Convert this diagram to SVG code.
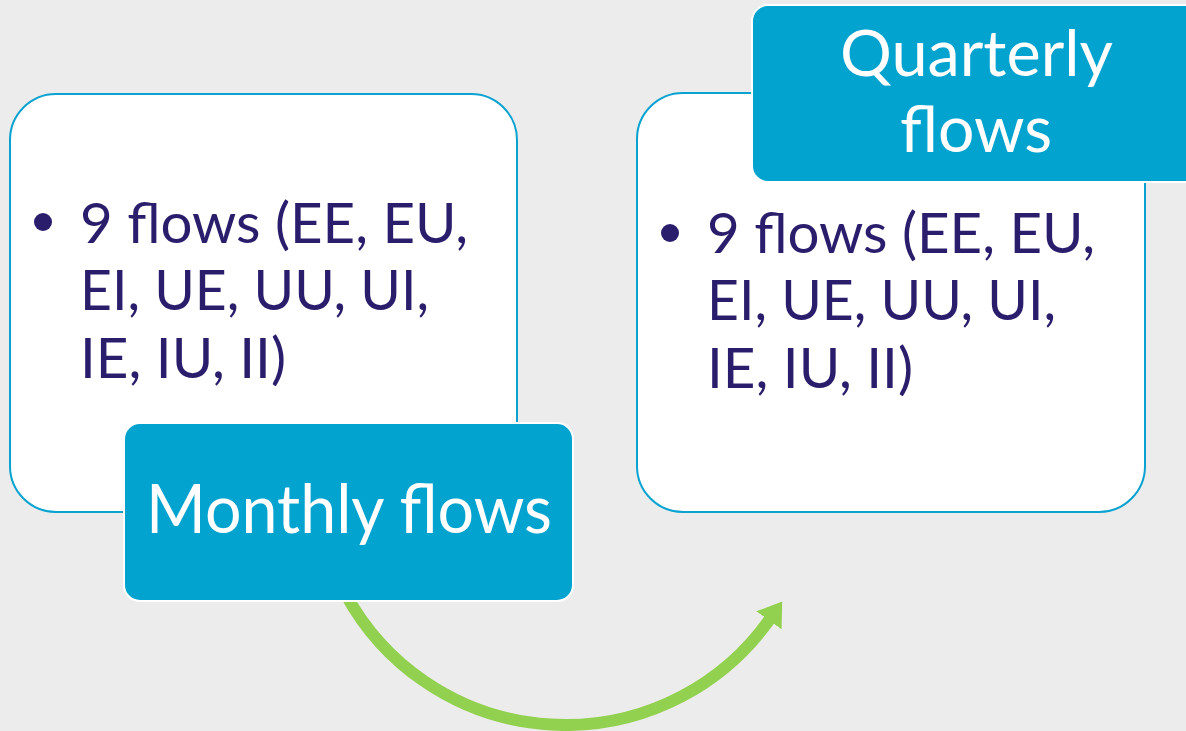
<svg xmlns="http://www.w3.org/2000/svg" width="1186" height="731" viewBox="0 0 1186 731">
  <style>
    .card { fill: #ffffff; stroke: #0aa2d0; stroke-width: 2; }
    .tab { fill: #02a3cf; stroke: #ffffff; stroke-width: 2; }
    .body { font-family: Lato, "Open Sans", "Liberation Sans", sans-serif; font-size: 56px; fill: #2a1d6c; }
    .title { font-family: Lato, "Open Sans", "Liberation Sans", sans-serif; fill: #ffffff; }
    .bullet { fill: #2a1d6c; }
    .conn { fill: none; stroke: #92d050; stroke-width: 12; }
  </style>
  <defs>
    <marker id="head" markerUnits="userSpaceOnUse" markerWidth="26" markerHeight="34" viewBox="0 0 26 34" refX="1" refY="17" orient="auto">
      <path d="M0,1.5 L23,17 L0,32.5 Z" fill="#92d050"/>
    </marker>
  </defs>
  <rect x="0" y="0" width="1186" height="731" fill="#ececec"/>

  <g id="connectors">
    <path class="conn" d="M345.8,594.3 A250,250 0 0 0 769.5,619.5" marker-end="url(#head)"/>
  </g>

  <g id="monthly-card">
    <rect class="card" x="10" y="94" width="507" height="418" rx="46" ry="46"/>
    <circle class="bullet" cx="43" cy="222" r="9"/>
    <text class="body" x="80" y="243" textLength="388" lengthAdjust="spacingAndGlyphs">9 flows (EE, EU,</text>
    <text class="body" x="80" y="310" textLength="349" lengthAdjust="spacingAndGlyphs">EI, UE, UU, UI,</text>
    <text class="body" x="80" y="378" textLength="206" lengthAdjust="spacingAndGlyphs">IE, IU, II)</text>
  </g>

  <g id="quarterly-card">
    <rect class="card" x="637" y="93" width="508" height="419" rx="46" ry="46"/>
    <circle class="bullet" cx="670" cy="233" r="9"/>
    <text class="body" x="707" y="253" textLength="388" lengthAdjust="spacingAndGlyphs">9 flows (EE, EU,</text>
    <text class="body" x="707" y="320" textLength="349" lengthAdjust="spacingAndGlyphs">EI, UE, UU, UI,</text>
    <text class="body" x="707" y="388" textLength="206" lengthAdjust="spacingAndGlyphs">IE, IU, II)</text>
  </g>

  <g id="quarterly-tab">
    <rect class="tab" x="752" y="5" width="450" height="177" rx="16" ry="16"/>
    <text class="title" x="840" y="76" font-size="64" textLength="273" lengthAdjust="spacingAndGlyphs">Quarterly</text>
    <text class="title" x="900" y="152" font-size="64" textLength="152" lengthAdjust="spacingAndGlyphs">flows</text>
  </g>

  <g id="monthly-tab">
    <rect class="tab" x="124" y="423" width="449" height="178" rx="16" ry="16"/>
    <text class="title" x="146" y="533" font-size="67" textLength="406" lengthAdjust="spacingAndGlyphs">Monthly flows</text>
  </g>
</svg>
